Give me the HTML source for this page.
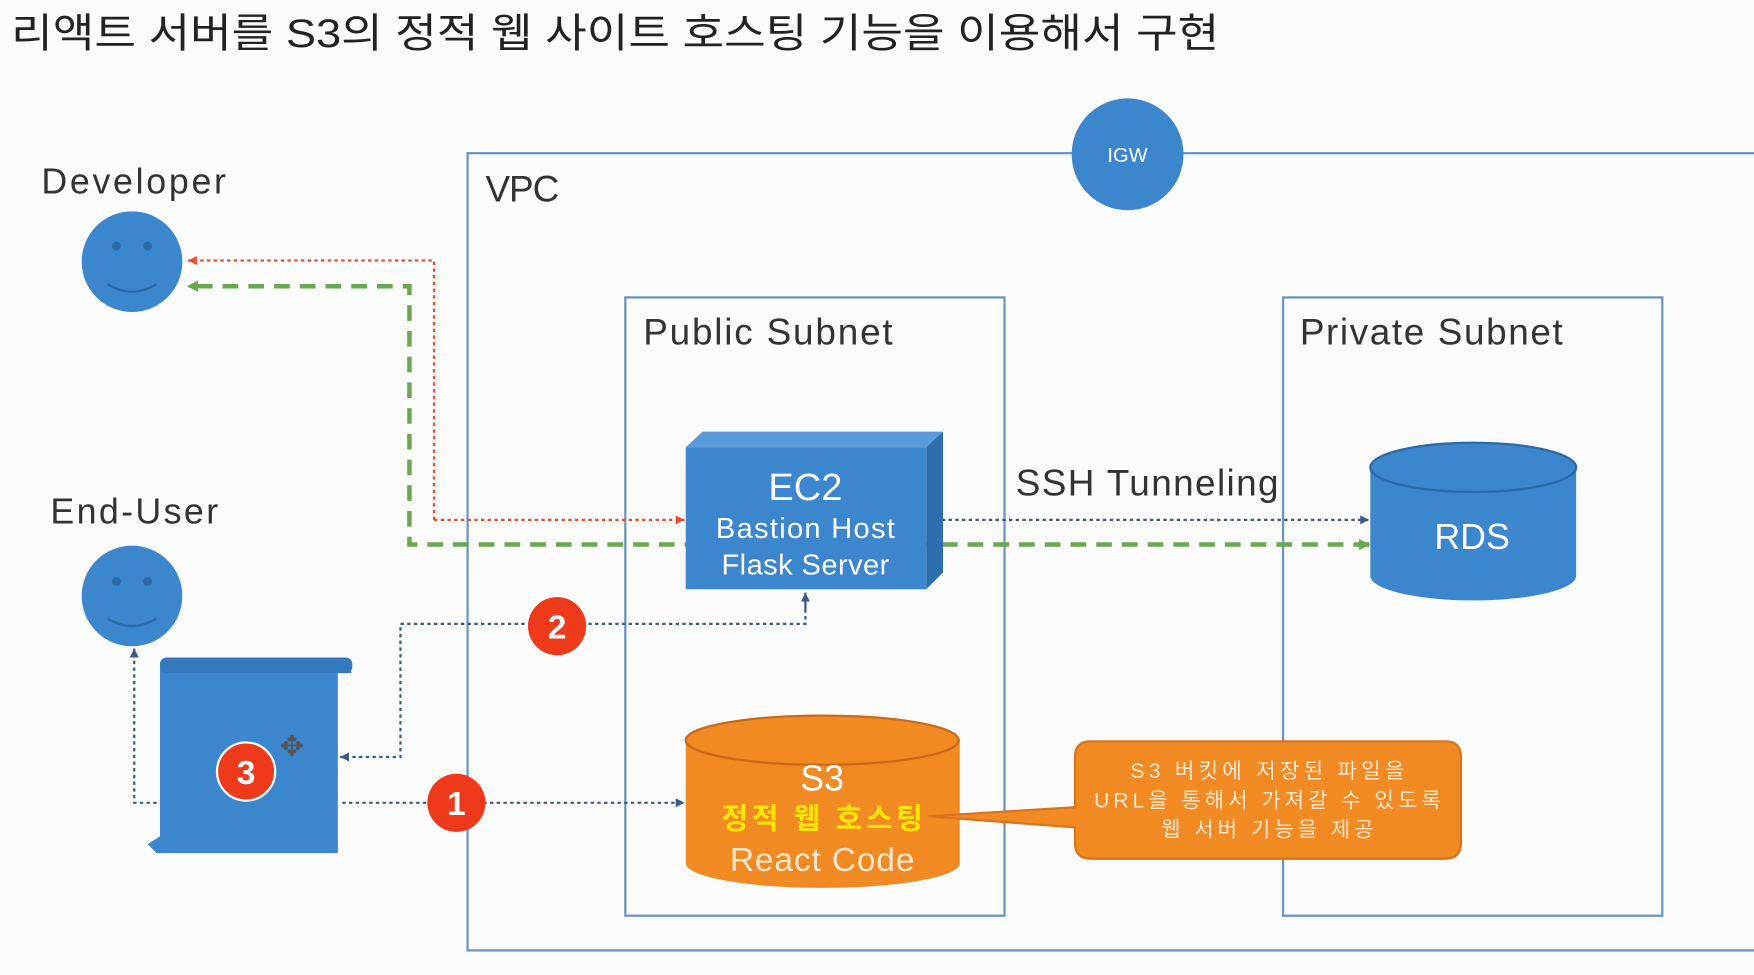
<!DOCTYPE html>
<html><head><meta charset="utf-8"><style>
html,body{margin:0;padding:0;background:#fbfbfb;}
svg{display:block}
text{font-family:"Liberation Sans","Noto Sans CJK KR",sans-serif;}
</style></head><body>
<svg width="1754" height="975" viewBox="0 0 1568 872" preserveAspectRatio="none" xmlns="http://www.w3.org/2000/svg">
<defs>
<marker id="ab" markerUnits="userSpaceOnUse" markerWidth="10" markerHeight="10" refX="8" refY="4" orient="auto"><path d="M0,0 L8,4 L0,8z" fill="#3a5a8a"/></marker>
<marker id="ar" markerUnits="userSpaceOnUse" markerWidth="10" markerHeight="10" refX="8" refY="4" orient="auto"><path d="M0,0 L8,4 L0,8z" fill="#f04a2a"/></marker>
<marker id="ag" markerUnits="userSpaceOnUse" markerWidth="12" markerHeight="12" refX="9" refY="5" orient="auto"><path d="M0,0 L10,5 L0,10z" fill="#6aa84f"/></marker>
<marker id="abs" markerUnits="userSpaceOnUse" markerWidth="10" markerHeight="10" refX="0" refY="4" orient="auto"><path d="M8,0 L0,4 L8,8z" fill="#3a5a8a"/></marker>
</defs>
<rect width="1568" height="872" fill="#fbfbfb"/>
<text x="10" y="42" font-size="36" fill="#222" textLength="1080" lengthAdjust="spacingAndGlyphs">리액트 서버를 S3의 정적 웹 사이트 호스팅 기능을 이용해서 구현</text>
<!-- VPC -->
<rect x="418" y="137" width="1170" height="713" fill="none" stroke="#6a95c2" stroke-width="2"/>
<text x="434" y="180" font-size="33" fill="#333" textLength="66">VPC</text>
<circle cx="1008" cy="138" r="50" fill="#3b86cc"/>
<text x="1008" y="145" font-size="18" fill="#fff" text-anchor="middle">IGW</text>
<!-- subnets -->
<rect x="559" y="266" width="339" height="553" fill="none" stroke="#6a95c2" stroke-width="2"/>
<text x="575" y="308" font-size="33" fill="#333" textLength="223">Public Subnet</text>
<rect x="1147" y="266" width="339" height="553" fill="none" stroke="#6a95c2" stroke-width="2"/>
<text x="1162" y="308" font-size="33" fill="#333" textLength="235">Private Subnet</text>
<!-- people -->
<text x="37" y="173" font-size="32" fill="#333" textLength="165">Developer</text>
<circle cx="118" cy="234" r="45" fill="#3b86cc"/>
<circle cx="104" cy="220" r="4" fill="#2a6aa8"/><circle cx="132" cy="220" r="4" fill="#2a6aa8"/>
<path d="M96,254 Q118,268 140,254" fill="none" stroke="#2a6aa8" stroke-width="2"/>
<text x="45" y="468" font-size="32" fill="#333" textLength="150">End-User</text>
<circle cx="118" cy="533" r="45" fill="#3b86cc"/>
<circle cx="104" cy="520" r="4" fill="#2a6aa8"/><circle cx="132" cy="520" r="4" fill="#2a6aa8"/>
<path d="M96,553 Q118,567 140,553" fill="none" stroke="#2a6aa8" stroke-width="2"/>
<!-- lines -->
<polyline points="388,465 388,233 168,233" fill="none" stroke="#f04a2a" stroke-width="2" stroke-dasharray="3,3" marker-end="url(#ar)"/>
<polyline points="388,465 612,465" fill="none" stroke="#f04a2a" stroke-width="2" stroke-dasharray="3,3" marker-end="url(#ar)"/>
<polyline points="1224,487 366,487 366,256 168,256" fill="none" stroke="#6aa84f" stroke-width="4" stroke-dasharray="14,9" marker-end="url(#ag)"/>
<line x1="1214" y1="487" x2="1224" y2="487" stroke="#6aa84f" stroke-width="4" marker-end="url(#ag)"/>
<!-- scroll -->
<path d="M150,590 L314,590 L314,602 L302,602 L302,763 L140,763 L132,755 L143,748 L143,598 Z" fill="#3b86cc"/>
<rect x="143" y="588" width="172" height="14" rx="6" fill="#3579bd"/>
<polyline points="140,718 120,718 120,580" fill="none" stroke="#3a5a8a" stroke-width="2" stroke-dasharray="3,3" marker-end="url(#ab)"/>
<polyline points="720,545 720,558 358,558 358,677 304,677" fill="none" stroke="#3a5a8a" stroke-width="2" stroke-dasharray="3,3" marker-end="url(#ab)"/>
<line x1="720" y1="545" x2="720" y2="530" stroke="#3a5a8a" stroke-width="2" marker-end="url(#ab)"/>
<line x1="306" y1="718" x2="612" y2="718" stroke="#3a5a8a" stroke-width="2" stroke-dasharray="3,3" marker-end="url(#ab)"/>
<line x1="830" y1="465" x2="1224" y2="465" stroke="#3a5a8a" stroke-width="2" stroke-dasharray="3,3" marker-end="url(#ab)" marker-start="url(#abs)"/>
<!-- EC2 -->
<polygon points="613,400 628,386 843,386 828,400" fill="#5b9ad8"/>
<polygon points="828,400 843,386 843,512 828,527" fill="#2d6eac"/>
<rect x="613" y="400" width="215" height="127" fill="#3b86cc"/>
<text x="720" y="447" font-size="34" fill="#fff" text-anchor="middle">EC2</text>
<text x="720" y="481" font-size="26" fill="#fff" text-anchor="middle" textLength="160">Bastion Host</text>
<text x="720" y="514" font-size="26" fill="#fff" text-anchor="middle" textLength="150">Flask Server</text>
<text x="908" y="443" font-size="33" fill="#333" textLength="235">SSH Tunneling</text>
<!-- RDS -->
<path d="M1225,418 L1225,515 A92,22 0 0 0 1409,515 L1409,418 Z" fill="#3b86cc"/>
<ellipse cx="1317" cy="418" rx="92" ry="22" fill="#3b86cc" stroke="#2a6aa8" stroke-width="2"/>
<text x="1316" y="491" font-size="32" fill="#fff" text-anchor="middle">RDS</text>
<!-- S3 -->
<path d="M613,662 L613,772 A122,22 0 0 0 858,772 L858,662 Z" fill="#f28a24"/>
<ellipse cx="735" cy="662" rx="122" ry="22" fill="#f28a24" stroke="#c9691a" stroke-width="2"/>
<text x="735" y="707" font-size="32" fill="#fff" text-anchor="middle">S3</text>
<text x="735" y="741" font-size="26" font-weight="bold" fill="#ffe600" text-anchor="middle" textLength="180">정적 웹 호스팅</text>
<text x="735" y="779" font-size="30" fill="#fde6cc" text-anchor="middle" textLength="165">React Code</text>
<!-- callout -->
<path d="M975,663 L1292,663 Q1306,663 1306,677 L1306,754 Q1306,768 1292,768 L975,768 Q961,768 961,754 L961,740 L830,730 L961,722 L961,677 Q961,663 975,663 Z" fill="#f28a24" stroke="#d9741c" stroke-width="2"/>
<text x="1133" y="696" font-size="19" fill="#fde6cc" text-anchor="middle" textLength="245">S3 버킷에 저장된 파일을</text>
<text x="1133" y="722" font-size="19" fill="#fde6cc" text-anchor="middle" textLength="310">URL을 통해서 가져갈 수 있도록</text>
<text x="1133" y="748" font-size="19" fill="#fde6cc" text-anchor="middle" textLength="190">웹 서버 기능을 제공</text>
<!-- numbers -->
<circle cx="220" cy="690" r="26" fill="#ee3a1a" stroke="#fff" stroke-width="2"/>
<text x="220" y="701" font-size="30" font-weight="bold" fill="#fff" text-anchor="middle">3</text>
<text x="261" y="676" font-size="26" fill="#555" text-anchor="middle">✥</text>
<circle cx="408" cy="718" r="26" fill="#ee3a1a"/>
<text x="408" y="729" font-size="30" font-weight="bold" fill="#fff" text-anchor="middle">1</text>
<circle cx="498" cy="560" r="26" fill="#ee3a1a"/>
<text x="498" y="571" font-size="30" font-weight="bold" fill="#fff" text-anchor="middle">2</text>
</svg>
</body></html>
